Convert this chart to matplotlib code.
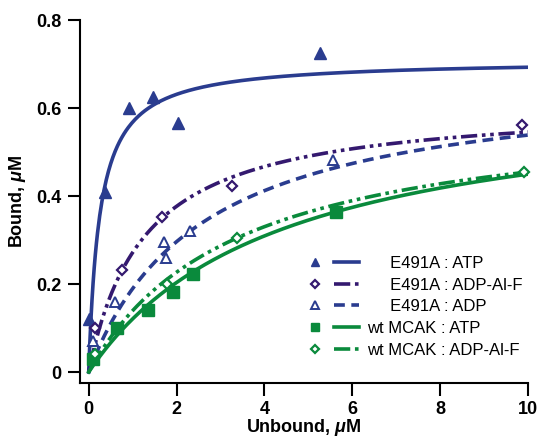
import numpy as np
import matplotlib
matplotlib.use("Agg")
import matplotlib.pyplot as plt
from matplotlib.lines import Line2D
from matplotlib.legend_handler import HandlerTuple

plt.rcParams['font.family'] = ['Liberation Sans', 'DejaVu Sans']
plt.rcParams['mathtext.fontset'] = 'custom'
plt.rcParams['mathtext.it'] = 'Liberation Sans:italic:bold'
plt.rcParams['mathtext.rm'] = 'Liberation Sans:bold'

# measured points (unbound uM, bound uM)
atp_x = [0.0, 0.37, 0.91, 1.46, 2.03, 5.27]
atp_y = [0.12, 0.41, 0.60, 0.625, 0.565, 0.725]
alf_x = [0.14, 0.75, 1.67, 3.26, 9.86]
alf_y = [0.10, 0.232, 0.352, 0.423, 0.561]
adp_x = [0.10, 0.59, 1.71, 1.76, 2.30, 5.55]
adp_y = [0.07, 0.16, 0.296, 0.26, 0.32, 0.482]
wt_atp_x = [0.10, 0.64, 1.36, 1.92, 2.37, 5.62]
wt_atp_y = [0.03, 0.10, 0.14, 0.183, 0.223, 0.364]
wt_alf_x = [0.15, 1.78, 3.38, 9.90]
wt_alf_y = [0.04, 0.20, 0.305, 0.455]

# hyperbolic fit parameters (Bmax, Kd)
fit_bmax = [0.71, 0.614, 0.677, 0.645, 0.607]
fit_kd = [0.25, 1.26, 2.57, 4.34, 3.35]

labels = ['     E491A : ATP', '     E491A : ADP-Al-F', '     E491A : ADP',
          'wt MCAK : ATP', 'wt MCAK : ADP-Al-F']

blue = '#2a3c8f'
purple = '#34196f'
green = '#0a8a3c'

dashdotdot = (0, (4.5, 1.3, 1, 1.3, 1, 1.3))
series = [
    (atp_x, atp_y, blue, dict(marker='^', ms=8, mfc=blue, mec=blue), '-'),
    (alf_x, alf_y, purple, dict(marker='D', ms=5, mfc='white', mec=purple, mew=1.6), dashdotdot),
    (adp_x, adp_y, blue, dict(marker='^', ms=7, mfc='white', mec=blue, mew=1.4), (0, (3, 1.8))),
    (wt_atp_x, wt_atp_y, green, dict(marker='s', ms=8, mfc=green, mec=green), '-'),
    (wt_alf_x, wt_alf_y, green, dict(marker='D', ms=5, mfc='white', mec=green, mew=1.6), dashdotdot),
]

fig = plt.figure(figsize=(5.4, 4.4), dpi=100)
ax = fig.add_axes([0.148, 0.1295, 0.830, 0.825])

xs = np.linspace(0, 10, 400)
handles = []
for i, (x, y, col, mk, ls) in enumerate(series):
    fit = fit_bmax[i] * xs / (fit_kd[i] + xs)
    ax.plot(xs, fit, color=col, lw=2.6, ls=ls, dash_capstyle='butt', zorder=2)
    ax.plot(x, y, ls='none', clip_on=False, zorder=3, **mk)
    lm = dict(mk)
    lm['ms'] = mk['ms'] * 0.8
    hm = Line2D([], [], ls='none', **lm)
    hl = Line2D([], [], color=col, lw=2.6, ls=ls, dash_capstyle='butt')
    handles.append((hm, hl))

ax.set_xlim(-0.2, 10)
ax.set_ylim(-0.025, 0.8)
ax.set_xticks([0, 2, 4, 6, 8, 10])
ax.set_yticks([0, 0.2, 0.4, 0.6, 0.8])
ax.set_yticklabels(['0', '0.2', '0.4', '0.6', '0.8'])
ax.spines['top'].set_visible(False)
ax.spines['right'].set_visible(False)
for s in ['left', 'bottom']:
    ax.spines[s].set_linewidth(1.5)
ax.tick_params(length=9, width=1.5, labelsize=13, pad=4)
for t in ax.get_xticklabels() + ax.get_yticklabels():
    t.set_fontweight('bold')
ax.set_xlabel(r'Unbound, $\mu$M', fontsize=13, fontweight='bold', labelpad=-1)
ax.set_ylabel(r'Bound, $\mu$M', fontsize=13, fontweight='bold', labelpad=6)

leg = ax.legend(handles, labels, handler_map={tuple: HandlerTuple(ndivide=None, pad=0.4)},
                loc='upper left', bbox_to_anchor=(0.497, 0.35), frameon=False,
                fontsize=12, handlelength=3.4, handletextpad=0.45, labelspacing=0.4,
                borderpad=0, borderaxespad=0)

fig.savefig('out.png', dpi=100)
